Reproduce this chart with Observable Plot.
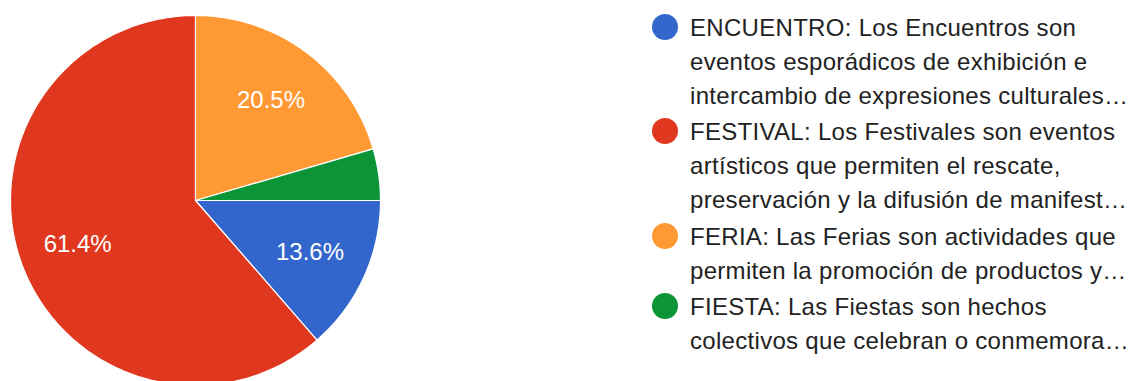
<!DOCTYPE html>
<html>
<head>
<meta charset="utf-8">
<script src="https://cdn.jsdelivr.net/npm/d3@7"></script>
<script src="https://cdn.jsdelivr.net/npm/@observablehq/plot@0.6"></script>
<style>
  html, body { margin: 0; padding: 0; background: #fff; }
  body { width: 1129px; height: 381px; overflow: hidden; position: relative;
         font-family: "Liberation Sans", Arial, sans-serif; }
  #pie { position: absolute; left: 0; top: 0; }
  #legend { position: absolute; left: 652px; top: 11px; color: #222; font-size: 24px; letter-spacing: 0.3px; }
  .item { position: relative; padding-left: 38px; margin-bottom: 3px; }
  .line { height: 33.8px; line-height: 33.8px; white-space: nowrap; }
  .swatch { position: absolute; left: 0; top: 3px; width: 26px; height: 26px; border-radius: 50%; }
</style>
</head>
<body>
<div id="pie"></div>
<div id="legend"></div>
<script>
// Event types and their share of responses (percent)
const categories = ["ENCUENTRO", "FESTIVAL", "FERIA", "FIESTA"];
const shares = [13.6, 61.4, 20.5, 4.5];
const colors = ["#3366cc", "#e0381f", "#ff9934", "#0b9537"];

// Legend descriptions, wrapped as displayed
const legendLines = [
  ["ENCUENTRO: Los Encuentros son", "eventos esporádicos de exhibición e", "intercambio de expresiones culturales…"],
  ["FESTIVAL: Los Festivales son eventos", "artísticos que permiten el rescate,", "preservación y la difusión de manifest…"],
  ["FERIA: Las Ferias son actividades que", "permiten la promoción de productos y…"],
  ["FIESTA: Las Fiestas son hechos", "colectivos que celebran o conmemora…"]
];

// Slices start at 3 o'clock and run clockwise
const startDeg = 90;
const R = 185; // radius in pixels
const total = d3.sum(shares);

const slicePoints = [];
const labels = [];
let acc = 0;
categories.forEach((name, i) => {
  const a0 = startDeg + (acc / total) * 360;
  const a1 = startDeg + ((acc + shares[i]) / total) * 360;
  acc += shares[i];
  slicePoints.push({name, x: 0, y: 0});
  const steps = Math.max(2, Math.ceil(a1 - a0));
  for (let k = 0; k <= steps; k++) {
    const t = (a0 + (a1 - a0) * k / steps) * Math.PI / 180;
    slicePoints.push({name, x: Math.sin(t), y: Math.cos(t)});
  }
  const mid = ((a0 + a1) / 2) * Math.PI / 180;
  if (shares[i] >= 5) {
    labels.push({name, x: 0.68 * Math.sin(mid), y: 0.68 * Math.cos(mid), text: shares[i].toFixed(1) + "%"});
  }
});

const W = 400, H = 381, cx = 195, cy = 200;
const pie = Plot.plot({
  width: W,
  height: H,
  margin: 0,
  x: {domain: [-cx / R, (W - cx) / R], axis: null},
  y: {domain: [-(H - cy) / R, cy / R], axis: null},
  color: {domain: categories, range: colors},
  style: {fontFamily: "'Liberation Sans', Arial, sans-serif", background: "white"},
  marks: [
    Plot.line(slicePoints, {x: "x", y: "y", z: "name", fill: "name", stroke: "white", strokeWidth: 1.2, curve: "linear-closed"}),
    Plot.text(labels, {x: "x", y: "y", text: "text", fill: "white", fontSize: 24, lineAnchor: "middle"})
  ]
});
document.getElementById("pie").append(pie);

// Legend
const legend = document.getElementById("legend");
categories.forEach((name, i) => {
  const item = document.createElement("div");
  item.className = "item";
  const sw = document.createElement("span");
  sw.className = "swatch";
  sw.style.background = colors[i];
  item.append(sw);
  legendLines[i].forEach(t => {
    const l = document.createElement("div");
    l.className = "line";
    l.textContent = t;
    item.append(l);
  });
  legend.append(item);
});
</script>
</body>
</html>
